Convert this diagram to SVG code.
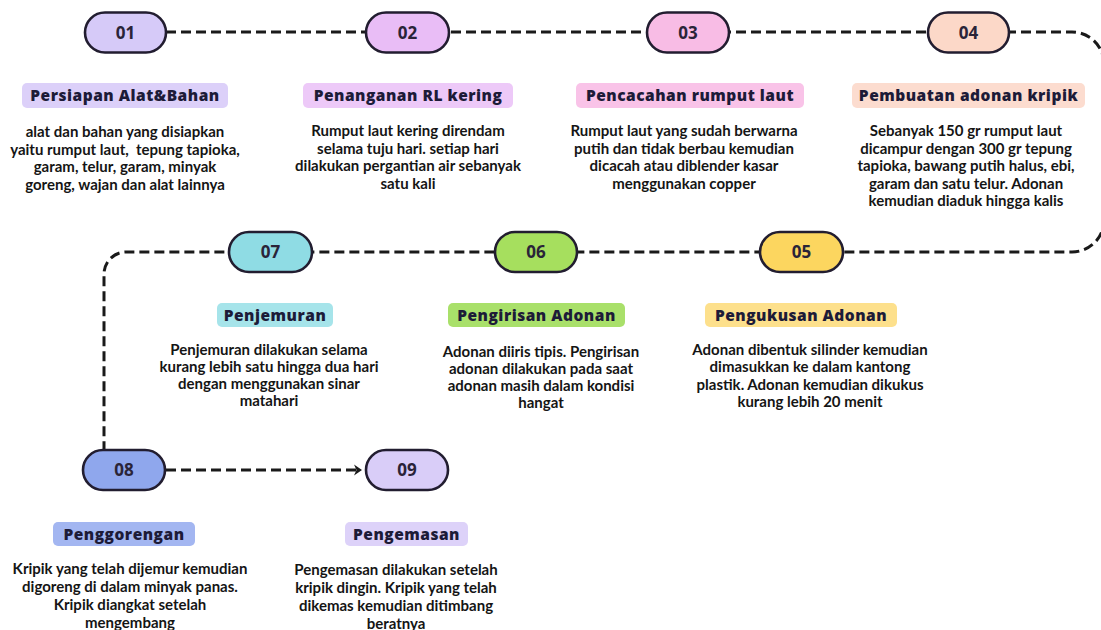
<svg xmlns="http://www.w3.org/2000/svg" width="1101" height="630" viewBox="0 0 1101 630">
<defs>
<marker id="chev" viewBox="0 0 10 12" refX="8" refY="6" markerWidth="10" markerHeight="12" markerUnits="userSpaceOnUse" orient="auto">
<path d="M1,0.5 L9,6 L1,11.5 L3.5,6 Z" fill="#1a1a1a"/>
</marker>
</defs>
<style>
.bg{fill:#ffffff}
.con{fill:none;stroke:#1a1a1a;stroke-width:3;stroke-dasharray:10 5}
.pill{stroke:#221d30;stroke-width:2.6}
.num{font-family:"Open Sans","Liberation Sans",sans-serif;font-weight:700;font-size:17px;fill:#2a2438;text-anchor:middle}
.lab{font-family:"Open Sans","Liberation Sans",sans-serif;font-weight:800;font-size:15.5px;fill:#1d1b38;text-anchor:middle;letter-spacing:0.5px}
.body{font-family:Lato,"Liberation Sans",sans-serif;font-weight:700;font-size:15px;fill:#151515;text-anchor:middle}
</style>
<rect class="bg" x="0" y="0" width="1101" height="630"/>
<g id="connectors">
<path class="con" d="M166,32 H1072 A32 32 0 0 1 1104 64 V220 A32 32 0 0 1 1072 252 H126 A22 22 0 0 0 104 274 V450"/>
<path class="con" d="M166,470 H361" marker-end="url(#chev)"/>
</g>
<g id="n01">
<rect class="pill" x="85" y="12.5" width="81" height="40" rx="20" fill="#d6caf8"/>
<text class="num" x="125.5" y="38.5">01</text>
<rect x="22" y="83" width="206" height="25" rx="5" fill="#dcd0f9"/>
<text class="lab" x="125" y="101">Persiapan Alat&amp;Bahan</text>
<text class="body" x="125" y="137">alat dan bahan yang disiapkan</text>
<text class="body" x="125" y="154.5" xml:space="preserve">yaitu rumput laut,  tepung tapioka,</text>
<text class="body" x="125" y="172">garam, telur, garam, minyak</text>
<text class="body" x="125" y="189.5">goreng, wajan dan alat lainnya</text>
</g>
<g id="n02">
<rect class="pill" x="366" y="12.5" width="83" height="40" rx="20" fill="#e9bdf6"/>
<text class="num" x="407.5" y="38.5">02</text>
<rect x="303" y="83" width="210" height="25" rx="5" fill="#edc9f8"/>
<text class="lab" x="408" y="101">Penanganan RL kering</text>
<text class="body" x="408" y="136">Rumput laut kering direndam</text>
<text class="body" x="408" y="153.5">selama tuju hari. setiap hari</text>
<text class="body" x="408" y="171">dilakukan pergantian air sebanyak</text>
<text class="body" x="408" y="188.5">satu kali</text>
</g>
<g id="n03">
<rect class="pill" x="647" y="12.5" width="82" height="40" rx="20" fill="#f8bce5"/>
<text class="num" x="688" y="38.5">03</text>
<rect x="576" y="83" width="228" height="25" rx="5" fill="#f9c3e8"/>
<text class="lab" x="690" y="101">Pencacahan rumput laut</text>
<text class="body" x="684" y="136">Rumput laut yang sudah berwarna</text>
<text class="body" x="684" y="153.5">putih dan tidak berbau kemudian</text>
<text class="body" x="684" y="171">dicacah atau diblender kasar</text>
<text class="body" x="684" y="188.5">menggunakan copper</text>
</g>
<g id="n04">
<rect class="pill" x="928" y="12.5" width="81" height="40" rx="20" fill="#fcd8c8"/>
<text class="num" x="968.5" y="38.5">04</text>
<rect x="852" y="83" width="233" height="25" rx="5" fill="#fcdccf"/>
<text class="lab" x="968.5" y="101">Pembuatan adonan kripik</text>
<text class="body" x="966" y="136">Sebanyak 150 gr rumput laut</text>
<text class="body" x="966" y="153.5">dicampur dengan 300 gr tepung</text>
<text class="body" x="966" y="171">tapioka, bawang putih halus, ebi,</text>
<text class="body" x="966" y="188.5">garam dan satu telur. Adonan</text>
<text class="body" x="966" y="206">kemudian diaduk hingga kalis</text>
</g>
<g id="n05">
<rect class="pill" x="760" y="232" width="83" height="40" rx="20" fill="#fcd65f"/>
<text class="num" x="801.5" y="258">05</text>
<rect x="705" y="303" width="192" height="24" rx="5" fill="#fde08c"/>
<text class="lab" x="801" y="321">Pengukusan Adonan</text>
<text class="body" x="810" y="355">Adonan dibentuk silinder kemudian</text>
<text class="body" x="810" y="372">dimasukkan ke dalam kantong</text>
<text class="body" x="810" y="389.5">plastik. Adonan kemudian dikukus</text>
<text class="body" x="810" y="407">kurang lebih 20 menit</text>
</g>
<g id="n06">
<rect class="pill" x="495" y="232" width="82" height="40" rx="20" fill="#a6df5e"/>
<text class="num" x="536" y="258">06</text>
<rect x="448" y="303" width="177" height="24" rx="5" fill="#a9e06a"/>
<text class="lab" x="536.5" y="321">Pengirisan Adonan</text>
<text class="body" x="541" y="357">Adonan diiris tipis. Pengirisan</text>
<text class="body" x="541" y="374">adonan dilakukan pada saat</text>
<text class="body" x="541" y="391">adonan masih dalam kondisi</text>
<text class="body" x="541" y="408">hangat</text>
</g>
<g id="n07">
<rect class="pill" x="229" y="232" width="83" height="40" rx="20" fill="#8fdce4"/>
<text class="num" x="270.5" y="258">07</text>
<rect x="217" y="303" width="116" height="24" rx="5" fill="#a6e4ea"/>
<text class="lab" x="275" y="321">Penjemuran</text>
<text class="body" x="269" y="355">Penjemuran dilakukan selama</text>
<text class="body" x="269" y="372">kurang lebih satu hingga dua hari</text>
<text class="body" x="269" y="389">dengan menggunakan sinar</text>
<text class="body" x="269" y="406">matahari</text>
</g>
<g id="n08">
<rect class="pill" x="83" y="450" width="82" height="40" rx="20" fill="#8fa7ed"/>
<text class="num" x="124" y="476">08</text>
<rect x="53" y="522" width="142" height="24" rx="5" fill="#a3b6f1"/>
<text class="lab" x="124" y="540">Penggorengan</text>
<text class="body" x="130" y="574">Kripik yang telah dijemur kemudian</text>
<text class="body" x="130" y="592">digoreng di dalam minyak panas.</text>
<text class="body" x="130" y="610">Kripik diangkat setelah</text>
<text class="body" x="130" y="628">mengembang</text>
</g>
<g id="n09">
<rect class="pill" x="366" y="450" width="82" height="40" rx="20" fill="#d9cdf8"/>
<text class="num" x="407" y="476">09</text>
<rect x="345" y="522" width="123" height="24" rx="5" fill="#ddd2f9"/>
<text class="lab" x="406.5" y="540">Pengemasan</text>
<text class="body" x="396" y="575">Pengemasan dilakukan setelah</text>
<text class="body" x="396" y="593">kripik dingin. Kripik yang telah</text>
<text class="body" x="396" y="611">dikemas kemudian ditimbang</text>
<text class="body" x="396" y="629">beratnya</text>
</g>
</svg>
